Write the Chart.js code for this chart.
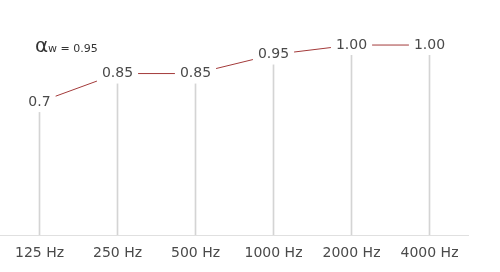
<!DOCTYPE html>
<html>
<head>
<meta charset="utf-8">
<script src="https://cdn.jsdelivr.net/npm/chart.js@4"></script>
<style>
  html, body { margin: 0; padding: 0; background: #fff; }
  #wrap { width: 500px; height: 272px; position: relative; }
</style>
</head>
<body>
<div id="wrap"><canvas id="chart"></canvas></div>
<script>
const frequencies = ['125 Hz', '250 Hz', '500 Hz', '1000 Hz', '2000 Hz', '4000 Hz'];
const absorption = [0.7, 0.85, 0.85, 0.95, 1.0, 1.0];
const absorptionLabels = ['0.7', '0.85', '0.85', '0.95', '1.00', '1.00'];
const ratingText = 'w = 0.95';

const FONT = '"DejaVu Sans", sans-serif';

// draws the value labels over the line (white box makes the gaps) and the αw note
const valueLabels = {
    id: 'valueLabels',
    afterDatasetsDraw(chart) {
        const ctx = chart.ctx;
        const x = chart.scales.x;
        const y = chart.scales.y;
        ctx.save();
        ctx.font = '14px ' + FONT;
        ctx.textAlign = 'center';
        ctx.textBaseline = 'middle';
        absorption.forEach((v, i) => {
            const px = x.getPixelForValue(i);
            const py = y.getPixelForValue(v);
            const text = absorptionLabels[i];
            const w = ctx.measureText(text).width;
            ctx.fillStyle = '#fff';
            ctx.fillRect(px - w / 2 - 5, py - 10, w + 10, 20);
            ctx.fillStyle = '#4a4a4a';
            ctx.fillText(text, px, py);
        });

        ctx.textAlign = 'left';
        ctx.textBaseline = 'alphabetic';
        ctx.fillStyle = '#333';
        ctx.font = '20px ' + FONT;
        ctx.fillText('α', 35, 52);
        ctx.font = '11px ' + FONT;
        ctx.fillText(ratingText, 48, 52);
        ctx.restore();
    }
};

new Chart(document.getElementById('chart'), {
    data: {
        labels: frequencies,
        datasets: [{
            type: 'line',
            data: absorption,
            borderColor: '#a33a3a',
            borderWidth: 1,
            pointRadius: 0,
            tension: 0,
            order: 1
        }, {
            type: 'bar',
            data: absorption,
            backgroundColor: '#d4d4d4',
            barThickness: 1,
            order: 2
        }]
    },
    options: {
        responsive: true,
        maintainAspectRatio: false,
        animation: false,
        layout: { padding: { left: 0.5, right: 31.5, top: 7, bottom: 0 } },
        plugins: {
            legend: { display: false },
            tooltip: { enabled: false }
        },
        scales: {
            x: {
                grid: { display: false, drawTicks: false },
                border: { display: true, color: '#e0e0e0', width: 1 },
                ticks: {
                    color: '#4a4a4a',
                    padding: 10,
                    font: { family: FONT, size: 14 }
                }
            },
            y: {
                display: false,
                min: 0,
                max: 1.2
            }
        }
    },
    plugins: [valueLabels]
});
</script>
</body>
</html>
